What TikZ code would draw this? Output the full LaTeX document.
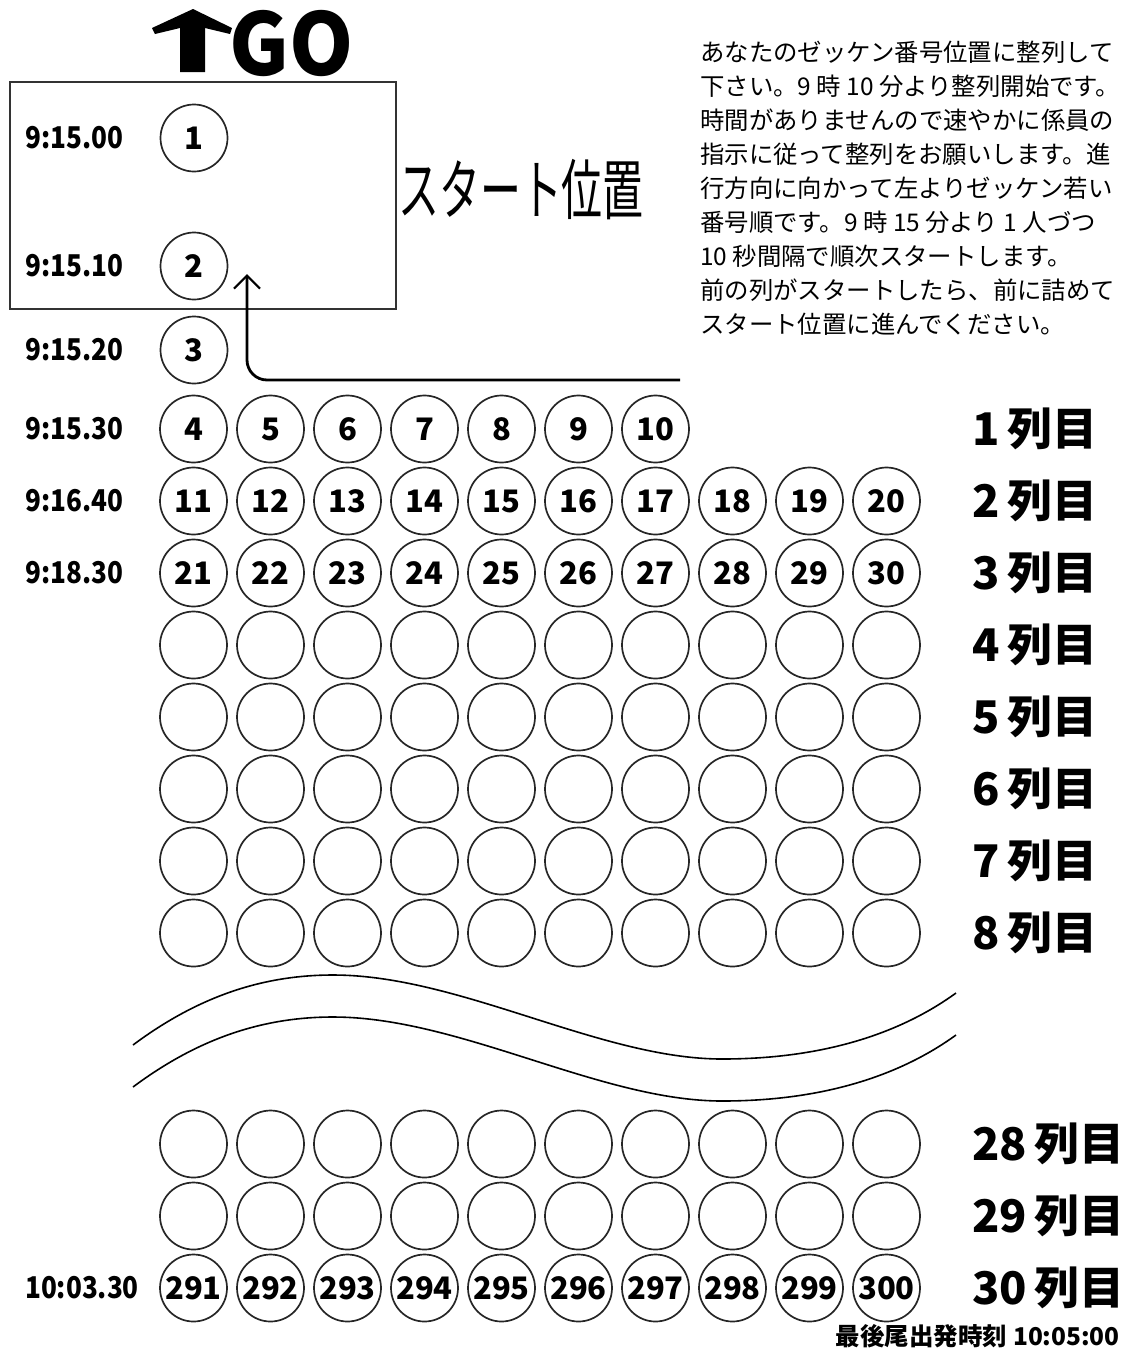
\documentclass[tikz,border=0pt]{standalone}
\usepackage{fontspec}
\newfontfamily\jp{Noto Sans CJK JP}
\usetikzlibrary{arrows.meta}

\begin{document}
\begin{tikzpicture}[x=1pt, y=-1pt,
    bib/.style={circle, draw=black!85, line width=1.7pt, minimum size=67pt, inner sep=0pt, font=\jp\bfseries\fontsize{31}{31}\selectfont},
    clock/.style={anchor=west, inner sep=0pt, xscale=0.87, font=\jp\bfseries\fontsize{30}{30}\selectfont},
    rowname/.style={anchor=west, inner sep=0pt, font=\jp\bfseries\fontsize{45}{45}\selectfont},
    notice/.style={anchor=base west, inner sep=0pt, font=\jp\fontsize{24.4}{24.4}\selectfont},
    wave/.style={line width=1.6pt}]
  \useasboundingbox (0,0) rectangle (1128,1350);

  \fill (193,9) -- (232,28) -- (230,34) -- (205,28) -- (205,72) -- (180,72) -- (180,28) -- (155,34) -- (152,28) -- cycle;
  \node[inner sep=0pt, xscale=0.95, font=\jp\bfseries\fontsize{86}{86}\selectfont] (go) at (292,44) {GO};
  \draw[black!80, line width=1.5pt] (10,82) rectangle (396,309);
  \node[inner sep=0pt, xscale=0.62, font=\jp\fontsize{66}{66}\selectfont] (start) at (521,190) {スタート位置};

  \foreach \txt [count=\i] in {あなたのゼッケン番号位置に整列して, 下さい。9 時 10 分より整列開始です。,
      時間がありませんので速やかに係員の, 指示に従って整列をお願いします。進,
      行方向に向かって左よりゼッケン若い, 番号順です。9 時 15 分より 1 人づつ,
      10 秒間隔で順次スタートします。, 前の列がスタートしたら、前に詰めて,
      スタート位置に進んでください。}
    \node[notice] (line\i) at (700,{61+34.1*(\i-1)}) {\txt};

  \node[bib] (c1) at (194,138) {1};
  \node[bib] (c2) at (194,266) {2};
  \node[bib] (c3) at (194,350) {3};
  \foreach \n in {4,...,10}
    \node[bib] (c\n) at ({193.5+77*(\n-4)},429) {\n};
  \foreach \r/\y in {1/501,2/573,29/1288}
    \foreach \c in {1,...,10} {
      \pgfmathtruncatemacro\n{10*\r+\c}
      \node[bib] (c\n) at ({193.5+77*(\c-1)},\y) {\n};
    }
  \foreach \r/\y in {4/645,5/717,6/789,7/861,8/933,28/1144,29/1216}
    \foreach \c in {1,...,10}
      \node[bib] (e\r-\c) at ({193.5+77*(\c-1)},\y) {};

  \foreach \t/\y [count=\i] in {9:15.00/138,9:15.10/266,9:15.20/350,9:15.30/429,9:16.40/501,9:18.30/573,10:03.30/1288}
    \node[clock] (t\i) at (25,\y) {\t};
  \foreach \r/\y in {1/429,2/501,3/573,4/645,5/717,6/789,7/861,8/933,28/1144,29/1216,30/1288}
    \node[rowname] (r\r) at (972,\y) {\r\,列目};
  \node[anchor=east, inner sep=0pt, font=\jp\bfseries\fontsize{24.5}{24.5}\selectfont] (last) at (1120,1336) {最後尾出発時刻 10:05:00};

  \coordinate (queue) at (680,380);
  \coordinate (entry) at (247,274);
  \draw[line width=2.8pt, rounded corners=20pt, -{Straight Barb[length=13pt, width=26pt, line width=2.2pt]}] (queue) -| (entry);

  \foreach \d in {0,42}
    \draw[wave] (133,1045+\d) .. controls (200,995+\d) and (265,975+\d) .. (333,975+\d)
      .. controls (460,975+\d) and (600,1059+\d) .. (722,1059+\d)
      .. controls (830,1059+\d) and (905,1030+\d) .. (956,993+\d);
\end{tikzpicture}
\end{document}
